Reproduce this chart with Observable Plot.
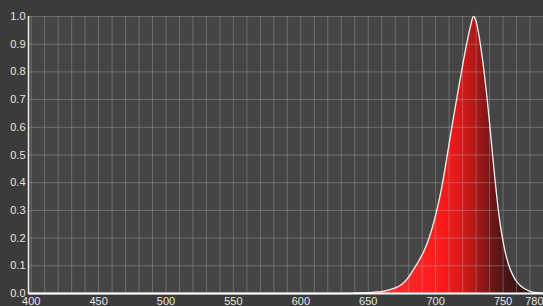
<!DOCTYPE html>
<html>
<head>
<meta charset="utf-8">
<script src="https://cdn.jsdelivr.net/npm/d3@7"></script>
<script src="https://cdn.jsdelivr.net/npm/@observablehq/plot@0.6"></script>
<style>
  html, body { margin: 0; padding: 0; background: #3b3b3b; overflow: hidden; }
  #chart svg { display: block; }
</style>
</head>
<body>
<div id="chart"></div>
<script>
// Wavelength (nm) and relative intensity
const wavelengths = [398, 420, 450, 480, 510, 540, 570, 600, 620, 635, 640, 645, 650, 655, 660, 665, 670, 674, 677, 680, 684, 688, 691, 694, 697, 700, 703, 706, 708, 710, 712, 714, 716, 718, 720, 722, 724, 726, 728, 730, 732, 734, 736, 738, 740, 742, 744, 746, 748, 750, 752, 754, 756, 758, 760, 763, 766, 770, 775, 780];
const intensity   = [0, 0, 0, 0, 0, 0, 0, 0, 0, 0.000, 0.001, 0.002, 0.003, 0.005, 0.007, 0.012, 0.020, 0.030, 0.042, 0.060, 0.090, 0.122, 0.150, 0.185, 0.229, 0.283, 0.346, 0.423, 0.481, 0.541, 0.601, 0.657, 0.713, 0.769, 0.823, 0.876, 0.925, 0.968, 1.000, 0.982, 0.935, 0.872, 0.798, 0.712, 0.615, 0.512, 0.412, 0.322, 0.247, 0.188, 0.141, 0.106, 0.079, 0.059, 0.044, 0.028, 0.017, 0.008, 0.003, 0.001];

const xTickLabels = [400, 450, 500, 550, 600, 650, 700, 750];
const xEndLabel   = [780];
const yTickLabels = [0, 0.1, 0.2, 0.3, 0.4, 0.5, 0.6, 0.7, 0.8, 0.9, 1.0];
const xGridLines  = [400, 410, 420, 430, 440, 450, 460, 470, 480, 490, 500, 510, 520, 530, 540, 550, 560, 570, 580, 590, 600, 610, 620, 630, 640, 650, 660, 670, 680, 690, 700, 710, 720, 730, 740, 750, 760, 770, 780];

// gradient stops by wavelength (style)
const gradStops = [
  [640, "#ff3c3c"], [670, "#ff2a2a"], [700, "#ff1c1c"], [710, "#f21a1a"],
  [720, "#d41a1a"], [730, "#ad1818"], [740, "#7a1616"], [750, "#4f1515"],
  [760, "#3b1515"], [780, "#311515"]
];

const spectrum = wavelengths.map((w, i) => ({ w, v: intensity[i] }));

const axisStyle = { tickSize: 0, tickPadding: 4, label: null };

const chart = Plot.plot({
  width: 543,
  height: 306,
  marginLeft: 28,
  marginRight: 0,
  marginTop: 16,
  marginBottom: 13,
  style: {
    background: "#3b3b3b",
    color: "#e6e6e6",
    fontFamily: "'Liberation Sans', Arial, sans-serif",
    fontSize: "11px"
  },
  x: { domain: [398, 780] },
  y: { domain: [0, 1] },
  marks: [
    Plot.frame({ fill: "#454545", stroke: "none" }),
    Plot.areaY(spectrum, { x: "w", y: "v", fill: "url(#specGrad)", curve: "monotone-x" }),
    Plot.gridX(xGridLines, { stroke: "#a8a8a8", strokeOpacity: 0.42 }),
    Plot.gridY(yTickLabels, { stroke: "#a8a8a8", strokeOpacity: 0.42 }),
    Plot.lineY(spectrum, { x: "w", y: "v", stroke: "#f2f2f2", strokeWidth: 1.3, curve: "monotone-x" }),
    Plot.ruleX([398], { stroke: "#eeeeee", strokeWidth: 1.5 }),
    Plot.ruleY([0], { stroke: "#ffffff", strokeWidth: 2 }),
    Plot.axisX(xTickLabels, axisStyle),
    Plot.axisX(xEndLabel, { ...axisStyle, textAnchor: "end", dx: 0 }),
    Plot.axisY(yTickLabels, { tickSize: 0, tickPadding: 3, label: null, tickFormat: ".1f" })
  ]
});

// horizontal wavelength gradient, positioned with the chart's x scale
const xs = chart.scale("x");
const x0 = xs.apply(640), x1 = xs.apply(780);
const ns = "http://www.w3.org/2000/svg";
const defs = document.createElementNS(ns, "defs");
const grad = document.createElementNS(ns, "linearGradient");
grad.setAttribute("id", "specGrad");
grad.setAttribute("gradientUnits", "userSpaceOnUse");
grad.setAttribute("x1", x0); grad.setAttribute("x2", x1);
grad.setAttribute("y1", 0); grad.setAttribute("y2", 0);
for (const [w, c] of gradStops) {
  const s = document.createElementNS(ns, "stop");
  s.setAttribute("offset", ((w - 640) / 140).toFixed(4));
  s.setAttribute("stop-color", c);
  grad.appendChild(s);
}
defs.appendChild(grad);
chart.insertBefore(defs, chart.firstChild);

document.getElementById("chart").appendChild(chart);
</script>
</body>
</html>
